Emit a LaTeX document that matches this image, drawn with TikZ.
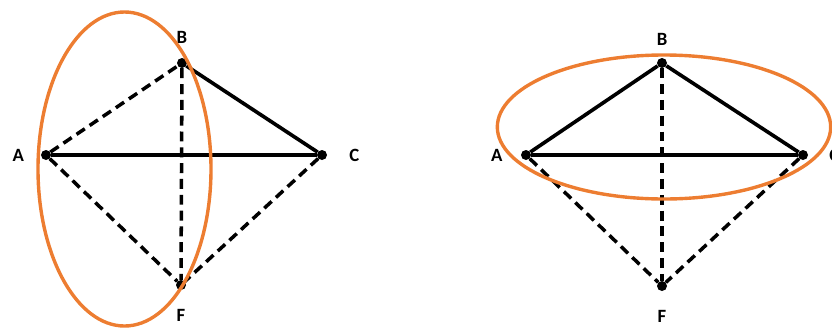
\documentclass[tikz,border=0pt]{standalone}
\usepackage{fontspec}
\setmainfont{Carlito}
\usepackage{tikz}
\usetikzlibrary{positioning}
\definecolor{corange}{HTML}{ED7D31}

\begin{document}
\begin{tikzpicture}[
    x=0.03cm, y=-0.03cm,
    vertex/.style={circle, fill=black, inner sep=0pt, minimum size=0.3cm},
    tag/.style={inner sep=0pt, font=\fontsize{16}{18}\selectfont\bfseries},
    solidedge/.style={line width=3.1pt},
    dashedge/.style={line width=3pt, dash pattern=on 8.5pt off 5pt},
    ring/.style={draw=corange, line width=2.9pt},
]
\useasboundingbox (0,0) rectangle (832,327);

% Left graph
\node[vertex] (A1) at (46,155)  {};
\node[vertex] (B1) at (182,63)  {};
\node[vertex] (C1) at (322,155) {};
\node[vertex] (F1) at (181,285) {};

\node[tag, left=0.5cm of A1]   (lA1) {A};
\node[tag, above=0.42cm of B1] (lB1) {B};
\node[tag, right=0.66cm of C1] (lC1) {C};
\node[tag, below=0.58cm of F1] (lF1) {F};

\draw[solidedge] (A1) -- (C1);
\draw[solidedge] (B1) -- (C1);
\draw[dashedge]  (A1) -- (B1);
\draw[dashedge]  (A1) -- (F1);
\draw[dashedge]  (B1) -- (F1);
\draw[dashedge]  (C1) -- (F1);

\draw[ring] (124.5,169) ellipse [x radius=2.595cm, y radius=4.71cm];

% Right graph
\node[vertex] (A2) at (526,155) {};
\node[vertex] (B2) at (662,63)  {};
\node[vertex] (C2) at (803,155) {};
\node[vertex] (F2) at (662,286) {};

\node[tag, left=0.54cm of A2]  (lA2) {A};
\node[tag, above=0.37cm of B2] (lB2) {B};
\node[tag, right=0.63cm of C2] (lC2) {C};
\node[tag, below=0.58cm of F2] (lF2) {F};

\draw[solidedge] (A2) -- (B2);
\draw[solidedge] (B2) -- (C2);
\draw[solidedge, line width=2.7pt] (A2) -- (C2);
\draw[dashedge]  (A2) -- (F2);
\draw[dashedge]  (B2) -- (F2);
\draw[dashedge]  (C2) -- (F2);

\draw[ring] (664,127) ellipse [x radius=5.0cm, y radius=2.16cm];
\end{tikzpicture}
\end{document}
